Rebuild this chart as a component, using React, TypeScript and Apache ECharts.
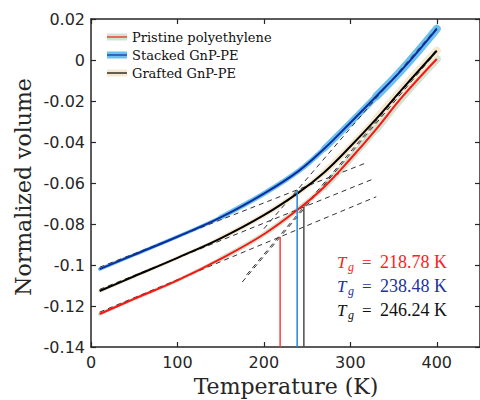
import React, { useEffect, useRef } from 'react';
import * as echarts from 'echarts';

const temps = [10, 50, 100, 150, 200, 240, 270, 300, 330, 360, 400];
const pristine = [-0.1239, -0.1165, -0.1075, -0.097, -0.085, -0.0727, -0.0618, -0.0483, -0.0337, -0.018, 0.0005];
const stacked = [-0.102, -0.095, -0.0862, -0.0768, -0.0652, -0.0542, -0.0432, -0.0306, -0.0177, -0.0046, 0.0152];
const grafted = [-0.1127, -0.1055, -0.0965, -0.087, -0.0757, -0.0647, -0.0547, -0.0422, -0.0287, -0.0142, 0.0045];
const seriesNames = ['Pristine polyethylene', 'Stacked GnP-PE', 'Grafted GnP-PE'];
const tgValues = [218.78, 238.48, 246.24];
const tgTops = [-0.0863, -0.0634, -0.0717];
const tgLabels = ['218.78 K', '238.48 K', '246.24 K'];
const lowFitRed = [[10, -0.123], [330, -0.0667]];
const lowFitBlue = [[10, -0.1011], [320, -0.0499]];
const lowFitBlack = [[10, -0.1119], [325, -0.0583]];
const highFitRed = [[175, -0.1083], [395, 0.0017]];
const highFitBlue = [[200, -0.0823], [400, 0.0157]];
const highFitBlack = [[180, -0.1048], [400, 0.0052]];

const lineColors = ['#ff1414', '#0d2d9e', '#000000'];
const bandColors = ['#d0e5d0', '#6cc0ee', '#f6e9cf'];
const vColors = ['#ff3b3b', '#1f86d8', '#4d4d4d'];
const textColors = ['#ff2020', '#22349a', '#111111'];
const AX = '#262626';

const pairs = (arr: number[]) => temps.map((t, i) => [t, arr[i]]);

export default function App() {
  const ref = useRef<HTMLDivElement>(null);
  useEffect(() => {
    if (!ref.current) return;
    const chart = echarts.init(ref.current, undefined, { renderer: 'svg' });
    const curves = [pristine, stacked, grafted];
    const series: any[] = [];
    const tiers = [[0, 3.5], [3, 5], [6, 6.5], [8, 8]];
    curves.forEach((c, i) => {
      tiers.forEach(([from, w]) => {
        series.push({
          type: 'line', data: pairs(c).slice(from), smooth: 0.4, symbol: 'none', silent: true,
          lineStyle: { color: bandColors[i], width: w, cap: 'round' }, z: 1,
        });
      });
    });
    [lowFitRed, highFitRed, lowFitBlue, highFitBlue, lowFitBlack, highFitBlack].forEach((d) => {
      series.push({
        type: 'line', data: d, symbol: 'none', silent: true,
        lineStyle: { color: '#333', width: 1, type: [5, 4] }, z: 2,
      });
    });
    curves.forEach((c, i) => {
      series.push({
        name: seriesNames[i], type: 'line', data: pairs(c), smooth: 0.4, symbol: 'none',
        lineStyle: { color: lineColors[i], width: 2 }, z: 3,
      });
    });
    tgValues.forEach((t, i) => {
      series.push({
        type: 'line', data: [[t, -0.14], [t, tgTops[i]]], symbol: 'none', silent: true,
        lineStyle: { color: vColors[i], width: 1.5 }, z: 4,
      });
    });

    const graphic: any[] = [];
    const legendY = [37, 55, 73];
    seriesNames.forEach((n, i) => {
      graphic.push({ type: 'rect', shape: { x: 107, y: legendY[i] - 3.5, width: 20, height: 7 }, style: { fill: bandColors[i] } });
      graphic.push({ type: 'line', shape: { x1: 107, y1: legendY[i], x2: 127, y2: legendY[i] }, style: { stroke: lineColors[i], lineWidth: 1.2 } });
      graphic.push({ type: 'text', x: 132, y: legendY[i], style: { text: n, font: '13px "DejaVu Serif"', fill: '#111', verticalAlign: 'middle', align: 'left' } });
    });
    const tgY = [262, 286, 310];
    tgLabels.forEach((lab, i) => {
      graphic.push({ type: 'text', x: 337, y: tgY[i], style: { text: 'T', font: 'italic 17px "Liberation Serif"', fill: textColors[i], verticalAlign: 'middle', align: 'left' } });
      graphic.push({ type: 'text', x: 348, y: tgY[i] + 5, style: { text: 'g', font: 'italic 12px "Liberation Serif"', fill: textColors[i], verticalAlign: 'middle', align: 'left' } });
      graphic.push({ type: 'text', x: 362, y: tgY[i], style: { text: '=', font: '17px "Liberation Serif"', fill: textColors[i], verticalAlign: 'middle', align: 'left' } });
      graphic.push({ type: 'text', x: 380, y: tgY[i], style: { text: lab, font: '18px "Liberation Serif"', fill: textColors[i], verticalAlign: 'middle', align: 'left' } });
    });
    graphic.push({ type: 'text', x: 286, y: 386, style: { text: 'Temperature (K)', font: '22px "DejaVu Serif"', fill: AX, align: 'center', verticalAlign: 'middle' } });
    graphic.push({ type: 'text', x: 23, y: 187, rotation: Math.PI / 2, style: { text: 'Normalized volume', font: '22px "DejaVu Serif"', fill: AX, align: 'center', verticalAlign: 'middle' } });

    const axLine = { onZero: false, lineStyle: { color: AX, width: 1.5 } };
    const tick = { inside: true, length: 5, lineStyle: { color: AX, width: 1.2 } };
    chart.setOption({
      animation: false,
      grid: { left: 91, top: 19, right: 0, bottom: 53, containLabel: false, outerBoundsMode: 'none' },
      xAxis: [
        {
          type: 'value', min: 0, max: 450, interval: 100, position: 'bottom',
          axisLine: axLine, axisTick: tick, splitLine: { show: false },
          axisLabel: { fontFamily: 'DejaVu Sans', fontSize: 16, color: AX, margin: 7, formatter: (v: number) => (v % 100 === 0 ? String(v) : '') },
        },
        {
          type: 'value', min: 0, max: 450, interval: 100, position: 'top',
          axisLine: axLine, axisTick: tick, splitLine: { show: false }, axisLabel: { show: false },
        },
      ],
      yAxis: [
        {
          type: 'value', min: -0.14, max: 0.02, interval: 0.02, position: 'left',
          axisLine: axLine, axisTick: tick, splitLine: { show: false },
          axisLabel: { fontFamily: 'DejaVu Sans', fontSize: 16, color: AX, margin: 6, formatter: (v: number) => String(Math.round(v * 100) / 100) },
        },
        {
          type: 'value', min: -0.14, max: 0.02, interval: 0.02, position: 'right',
          axisLine: axLine, axisTick: tick, splitLine: { show: false }, axisLabel: { show: false },
        },
      ],
      series,
      graphic,
    });
    return () => chart.dispose();
  }, []);
  return <div ref={ref} style={{ position: 'fixed', left: 0, top: 0, width: 480, height: 400, background: '#fff' }} />;
}
